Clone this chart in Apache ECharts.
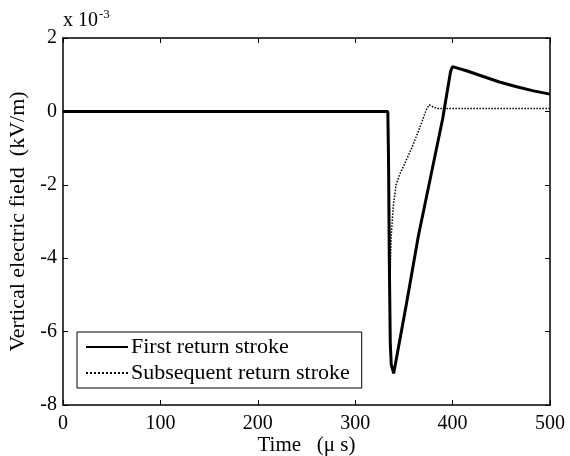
<!DOCTYPE html>
<html>
<head>
<meta charset="utf-8">
<script src="https://cdn.jsdelivr.net/npm/echarts@6/dist/echarts.min.js"></script>
<style>
  html, body { margin: 0; padding: 0; background: #fff; }
  #main { width: 570px; height: 456px; }
</style>
</head>
<body>
<div id="main"></div>
<script>
// values in units of 1e-3 kV/m, time in microseconds
var firstStroke = [
  [0, 0], [333.5, 0], [334.3, -1.5], [335, -4], [336, -6.3], [337, -6.9],
  [339.5, -7.14], [352.9, -5.2], [364.8, -3.4], [389.8, -0.2], [398, 1.1],
  [400, 1.22], [405, 1.18], [415, 1.1], [431.5, 0.95], [448, 0.8],
  [465.8, 0.67], [483, 0.56], [500, 0.47]
];
var subsequentStroke = [
  [0, 0], [333.8, 0], [334.6, -1.5], [335.3, -3.5], [335.8, -4.5], [337, -3.4],
  [339, -2.6], [342, -2.0], [346, -1.7], [352, -1.35], [358, -1.0],
  [364, -0.6], [369, -0.25], [373, 0.05], [376, 0.18], [380, 0.12],
  [385, 0.08], [500, 0.08]
];
var seriesNames = ['First return stroke', 'Subsequent return stroke'];

var font = '"Liberation Serif", "DejaVu Serif", serif';

var myChart = echarts.init(document.getElementById('main'));
myChart.setOption({
  backgroundColor: '#fff',
  animation: false,
  grid: { left: 63, right: 20, top: 38, bottom: 51, outerBoundsMode: 'none' },
  legend: {
    orient: 'vertical',
    left: 77,
    top: 332,
    data: seriesNames,
    itemWidth: 42,
    itemHeight: 10,
    itemGap: 4,
    padding: [4, 12, 4, 8],
    borderColor: '#000',
    borderWidth: 1,
    backgroundColor: '#fff',
    itemStyle: { opacity: 0 },
    textStyle: { fontFamily: font, fontSize: 22, color: '#000', padding: [0, 0, 0, -2] }
  },
  xAxis: [{
    type: 'value', min: 0, max: 500, interval: 100,
    name: 'Time   (\u03bc s)', nameLocation: 'middle', nameGap: 30,
    nameMoveOverlap: false,
    nameTextStyle: { fontFamily: font, fontSize: 21, color: '#000' },
    axisLine: { onZero: false, lineStyle: { color: '#000', width: 1.5 } },
    axisTick: { inside: true, length: 5, lineStyle: { color: '#000' } },
    axisLabel: { fontFamily: font, fontSize: 20, color: '#000', margin: 9 },
    splitLine: { show: false }
  }, {
    type: 'value', min: 0, max: 500, interval: 100, position: 'top',
    axisLine: { onZero: false, lineStyle: { color: '#000', width: 1.5 } },
    axisTick: { inside: true, length: 5, lineStyle: { color: '#000' } },
    axisLabel: { show: false }, splitLine: { show: false }
  }],
  yAxis: [{
    type: 'value', min: -8, max: 2, interval: 2,
    name: 'Vertical electric field  (kV/m)', nameLocation: 'middle', nameGap: 30,
    nameTextStyle: { fontFamily: font, fontSize: 22, color: '#000' },
    axisLine: { show: true, onZero: false, lineStyle: { color: '#000', width: 1.5 } },
    axisTick: { show: true, inside: true, length: 5, lineStyle: { color: '#000' } },
    axisLabel: { fontFamily: font, fontSize: 20, color: '#000', margin: 6 },
    splitLine: { show: false }
  }, {
    type: 'value', min: -8, max: 2, interval: 2, position: 'right',
    axisLine: { show: true, onZero: false, lineStyle: { color: '#000', width: 1.5 } },
    axisTick: { show: true, inside: true, length: 5, lineStyle: { color: '#000' } },
    axisLabel: { show: false }, splitLine: { show: false }
  }],
  graphic: [{
    type: 'text', left: 63, top: 8,
    style: {
      text: '{b|x 10}{s|-3}',
      rich: {
        b: { fontFamily: font, fontSize: 20, fill: '#000', verticalAlign: 'bottom' },
        s: { fontFamily: font, fontSize: 13, fill: '#000', verticalAlign: 'top', padding: [0, 0, 10, 1] }
      }
    }
  }],
  series: [{
    name: seriesNames[0], type: 'line', data: firstStroke,
    symbol: 'none', z: 3,
    lineStyle: { color: '#000', width: 3 }, itemStyle: { color: '#000' }
  }, {
    name: seriesNames[1], type: 'line', data: subsequentStroke,
    symbol: 'none', z: 2,
    lineStyle: { color: '#000', width: 1.5, type: 'dotted' }, itemStyle: { color: '#000' }
  }]
});
</script>
</body>
</html>
